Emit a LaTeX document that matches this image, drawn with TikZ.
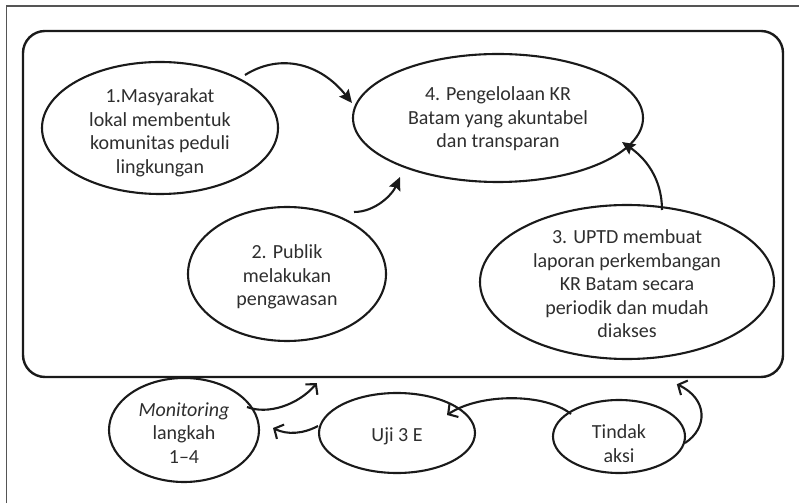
\documentclass[tikz,border=0pt]{standalone}
\usepackage{fontspec}
\setmainfont{Carlito}
\usetikzlibrary{shapes.geometric,arrows.meta,calc}
\definecolor{ink}{HTML}{1A1A1A}
\definecolor{txt}{HTML}{2E2E2E}
\definecolor{rule}{HTML}{555555}
\begin{document}
\begin{tikzpicture}[x=1pt,y=1pt,
  bub/.style={ellipse,draw=ink,line width=2.1pt,inner sep=0pt,outer sep=0pt},
  lbl/.style={align=center,text=txt,inner sep=0pt,font=\fontsize{20}{23.5}\selectfont},
  fa/.style={draw=ink,line width=2.1pt,-{Stealth[length=13pt,width=12pt,inset=2pt]}},
  oa/.style={draw=ink,line width=2.1pt,-{Straight Barb[length=7pt,width=16pt,line width=2.1pt]}}]
\useasboundingbox (0,0) rectangle (799,503);
% outer frame (top and left edges)
\draw[rule,line width=1.3pt] (6.5,0) -- (6.5,497) -- (799,497);
% rounded panel holding steps 1-4
\node[draw=ink,line width=2.4pt,rounded corners=22pt,minimum width=760pt,minimum height=346pt,inner sep=0pt] (panel) at (403,299) {};
% bubbles
\node[bub,minimum width=236pt,minimum height=132pt] (n1) at (160,375) {};
\node[bub,minimum width=290pt,minimum height=128pt] (n4) at (498,385) {};
\node[bub,minimum width=198pt,minimum height=134pt] (n2) at (287,229) {};
\node[bub,minimum width=294pt,minimum height=154pt] (n3) at (627,221) {};
\node[bub,minimum width=150pt,minimum height=104pt] (nm) at (184,73) {};
\node[bub,minimum width=156pt,minimum height=80pt] (nu) at (397,70) {};
\node[bub,minimum width=132pt,minimum height=73pt] (nt) at (619,66.5) {};
% texts
\node[lbl] (t1) at ($(n1)+(0,-5)$) {1.Masyarakat\\lokal membentuk\\komunitas peduli\\lingkungan};
\node[lbl] (t4) at ($(n4)+(0,-1)$) {4. Pengelolaan KR\\Batam yang akuntabel\\dan transparan};
\node[lbl] (t2) at ($(n2)+(0,-3)$) {2. Publik\\melakukan\\pengawasan};
\node[lbl] (t3) at ($(n3)+(0,-2)$) {3. UPTD membuat\\laporan perkembangan\\KR Batam secara\\periodik dan mudah\\diakses};
\node[lbl] (tm) at ($(nm)+(0,-3)$) {\textit{Monitoring}\\langkah\\1–4};
\node[lbl] (tu) at ($(nu)+(0,-3)$) {Uji 3 E};
\node[lbl] (tt) at ($(nt)+(0,-7)$) {Tindak\\aksi};
% connectors inside the panel
\draw[fa] ($(n1)+(85,53)$) .. controls (280,450) and (320,440) .. ($(n4)+(-146,15)$);
\draw[fa] ($(n2)+(67,62)$) .. controls (375,291) and (392,308) .. ($(n4)+(-98,-59)$);
\draw[fa] ($(n3)+(35,72)$) .. controls (662,325) and (645,345) .. ($(n4)+(124,-24)$);
% monitoring cycle below the panel
\draw[oa] ($(nm)+(63,23)$) .. controls (268,88) and (298,98) .. ($(panel.south west)+(295,-5)$);
\draw[oa] ($(nu)+(-79,7)$) .. controls (303,69) and (287,68) .. ($(nm)+(89,2)$);
\draw[oa] ($(nt)+(-48,22.5)$) .. controls (545,110) and (480,110) .. ($(nu)+(50,18)$);
\draw[oa] ($(nt)+(66,-6.5)$) .. controls (708,75) and (708,104) .. ($(panel.south west)+(655,-6)$);
\end{tikzpicture}
\end{document}
